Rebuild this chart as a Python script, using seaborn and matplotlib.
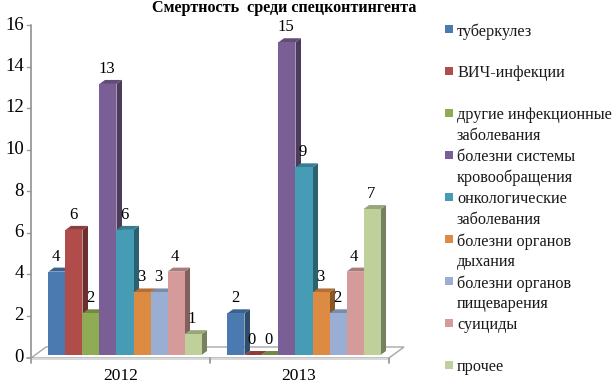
import matplotlib
matplotlib.use("Agg")
import pandas as pd
import seaborn as sns
import matplotlib.pyplot as plt
from matplotlib.colors import to_rgb
from matplotlib.patches import Polygon
from matplotlib.lines import Line2D

years = ["2012", "2013"]
causes = ["туберкулез", "ВИЧ-инфекции", "другие инфекционные\nзаболевания",
          "болезни системы\nкровообращения", "онкологические\nзаболевания",
          "болезни органов\nдыхания", "болезни органов\nпищеварения", "суициды", "прочее"]
values_2012 = [4, 6, 2, 13, 6, 3, 3, 4, 1]
values_2013 = [2, 0, 0, 15, 9, 3, 2, 4, 7]
colors = ["#4a7ab0", "#b04c4a", "#8fab54", "#7a5f96", "#459cb4", "#dd8a42", "#9aaed4", "#d59a9a", "#bfd09b"]

W, H = 614, 385
# pixels from top left -> figure coords
def px(x, y):
    return x / W, 1 - y / H

df = pd.DataFrame({
    "year": years * len(causes),
    "cause": [c for c in causes for _ in years],
    "n": [v for pair in zip(values_2012, values_2013) for v in pair],
})

sns.set_theme(style="white")
plt.rcParams["font.family"] = ["Liberation Serif", "DejaVu Serif"]

fig = plt.figure(figsize=(W / 100, H / 100), dpi=100)
# axes runs over the floor of the box, shifted a bit from the front edge
x0, x1 = px(35.5, 355)[0], px(393.5, 355)[0]
y0, y1 = px(0, 355)[1], px(0, 355 - 16 * 20.85)[1]
ax = fig.add_axes([x0, y0, x1 - x0, y1 - y0])

sns.barplot(data=df, x="year", y="n", hue="cause", hue_order=causes, palette=colors,
            order=years, width=0.855, saturation=1, dodge=True, legend=False,
            linewidth=0, edgecolor="none", ax=ax)
ax.set_xlim(-0.5, 1.5)
ax.set_ylim(0, 16)
ax.set_xlabel("")
ax.set_ylabel("")
ax.axis("off")

# box lines (left wall, floor)
line_col = "#a6a6a6"
floor = Polygon([px(31, 358), px(46, 347), px(404, 347), px(389, 358)], closed=True,
                transform=fig.transFigure, fc="white", ec=line_col, lw=1, zorder=0)
fig.add_artist(floor)
front = Polygon([px(31, 358), px(389, 358), px(389, 360), px(31, 360)], closed=True,
                transform=fig.transFigure, fc="#d9d9d9", ec="none", zorder=0)
fig.add_artist(front)
for seg in [[(31, 25), (31, 363)], [(27, 358), (31, 358)], [(210, 358), (210, 363)], [(389, 358), (389, 363)]]:
    xs, ys = zip(*[px(*p) for p in seg])
    fig.add_artist(Line2D(xs, ys, color="#9a9a9a", lw=1.3, zorder=0))

# 3d faces of the bars + value labels, taken from seaborn's patches
dx, dy = 5.5 / W, 4 / H
bars = [p for p in ax.patches if p.get_width() > 0]
for i, b in enumerate(bars):
    col = to_rgb(b.get_facecolor())
    val = b.get_height()
    (xa, ya), (xb, yb) = fig.transFigure.inverted().transform(
        ax.transData.transform([(b.get_x(), 0), (b.get_x() + b.get_width(), val)]))
    # bars to the right cover the side of this one, so keep draw order
    z = 3 + i * 0.01
    side = Polygon([(xb, ya), (xb + dx, ya + dy), (xb + dx, yb + dy), (xb, yb)],
                   transform=fig.transFigure, fc=tuple(c * 0.62 for c in col), ec="none", zorder=z)
    top = Polygon([(xa, yb), (xa + dx, yb + dy), (xb + dx, yb + dy), (xb, yb)],
                  transform=fig.transFigure, fc=tuple(c * 0.8 for c in col), ec="none", zorder=z)
    fig.add_artist(side)
    fig.add_artist(top)
    fig.text((xa + xb) / 2 - 1 / W, yb + dy + 3 / H, f"{val:.0f}", ha="center", va="bottom",
             fontsize=12, color="black", zorder=6)
ax.set_zorder(5)

# y tick labels
for t in range(0, 17, 2):
    fx, fy = px(24, 357 - t * 20.75)
    fig.text(fx, fy, str(t), ha="right", va="center", fontsize=13.5, color="black")
    if t:
        xs, ys = zip(*[px(27, 357 - t * 20.75), px(31, 357 - t * 20.75)])
        fig.add_artist(Line2D(xs, ys, color="#9a9a9a", lw=1))

for x, lab in zip([120.5, 299], years):
    fx, fy = px(x, 376.5)
    fig.text(fx, fy, lab, ha="center", va="center", fontsize=12.5, color="black")

fx, fy = px(284, 8)
fig.text(fx, fy, "Смертность  среди спецконтингента", ha="center", va="center",
         fontsize=11.6, fontweight="bold", color="black")

# legend written by hand, rows are unevenly spaced in the original
leg_y = [29, 71, 113, 155, 197, 239, 281, 323, 365]
for c, lab, y in zip(colors, causes, leg_y):
    sq = Polygon([px(445, y - 4), px(453, y - 4), px(453, y + 4), px(445, y + 4)],
                 transform=fig.transFigure, fc=c, ec="none")
    fig.add_artist(sq)
    fx, fy = px(457, y - 6)
    fig.text(fx, fy, lab, ha="left", va="top", fontsize=11.7, color="#1a1a1a", linespacing=1.4)

fig.savefig("out.png", dpi=100)
